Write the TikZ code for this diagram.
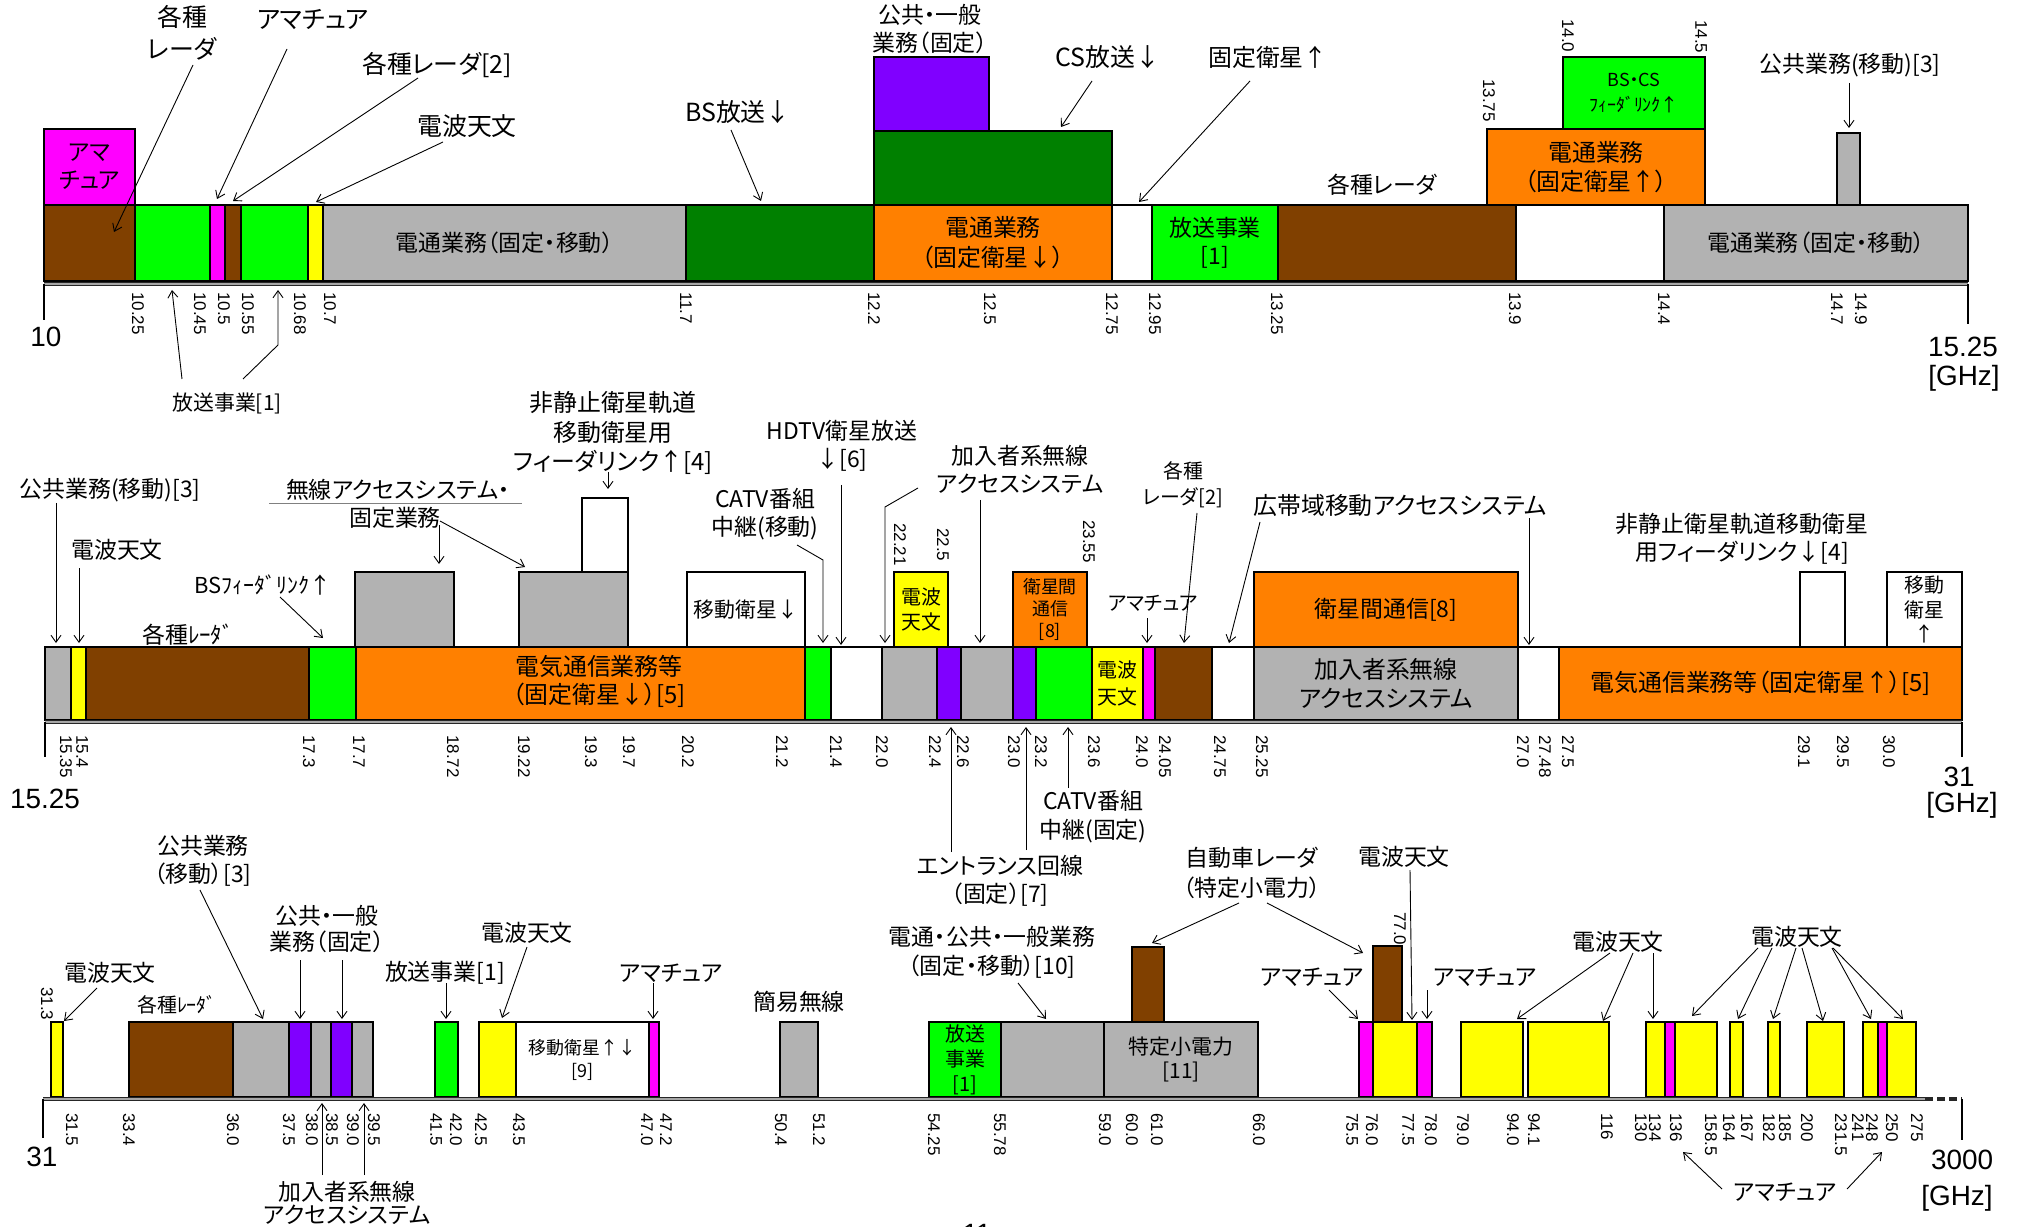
\documentclass[tikz,border=0pt]{standalone}
\usepackage{fontspec}
\setmainfont{Noto Sans CJK JP}[RawFeature=+palt]
\newfontfamily\arial{Liberation Sans}
\usetikzlibrary{arrows.meta}
\definecolor{cbrown}{RGB}{128,64,0}
\definecolor{cgreen}{RGB}{0,255,0}
\definecolor{cdkgreen}{RGB}{0,128,0}
\definecolor{cmag}{RGB}{255,0,255}
\definecolor{cyel}{RGB}{255,255,0}
\definecolor{cgray}{RGB}{178,178,178}
\definecolor{corange}{RGB}{255,128,0}
\definecolor{cpurple}{RGB}{128,0,255}
\newcommand\fss[2]{\fontsize{#1}{#2}\selectfont}
\tikzset{
  band/.style={draw=black, line width=0.9bp, inner sep=0pt, outer sep=0pt, rectangle},
  btxt/.style={inner sep=0pt, align=center},
  cl/.style={inner sep=0pt, align=center, font=\fss{11.5}{14}},
  arr/.style={-{Straight Barb[length=3.5bp,width=5bp]}, line width=0.45bp},
  tick/.style={font=\arial\fss{8.5}{9}, rotate=-90, anchor=west, inner sep=0pt},
  big/.style={font=\arial\fss{14}{16}, inner sep=0pt},
  endtick/.style={line width=0.8bp}
}
% name, x1, x2, ytop, ybot, colour
\newcommand\bd[6]{\node[band,fill=#6,minimum width={(#3-#2)*0.5bp},minimum height={(#5-#4)*0.5bp}] (#1) at ({(#2+#3)/2},{(#4+#5)/2}) {};}
% name, at, size, skip, text
\newcommand\bt[5]{\node[btxt,font=\fss{#3}{#4}] (#1) at (#2) {#5};}
\newcommand\axisline[3]{\draw[line width=2.4bp,black!85] (#2,#1) -- (#3,#1); \draw[line width=0.9bp,gray!70] (#2,#1) -- (#3,#1);}

\begin{document}
\begin{tikzpicture}[x=0.5bp,y=-0.5bp]
\useasboundingbox (0,0) rectangle (2033,1227);
\clip (0,0) rectangle (2033,1227);

% ================= ROW 1 =================
\bd{b1}{44}{135}{205}{281}{cbrown}
\bd{b2}{44}{135}{129}{205}{cmag}
\bd{b3}{135}{210}{205}{281}{cgreen}
\bd{b4}{210}{225}{205}{281}{cmag}
\bd{b5}{225}{241}{205}{281}{cbrown}
\bd{b6}{241}{308}{205}{281}{cgreen}
\bd{b7}{308}{323}{205}{281}{cyel}
\bd{b8}{323}{686}{205}{281}{cgray}
\bd{b9}{686}{874}{205}{281}{cdkgreen}
\bd{b10}{874}{1112}{205}{281}{corange}
\bd{b11}{874}{1112}{131}{205}{cdkgreen}
\bd{b12}{874}{989}{57}{131}{cpurple}
\bd{b13}{1112}{1152}{205}{281}{white}
\bd{b14}{1152}{1278}{205}{281}{cgreen}
\bd{b15}{1278}{1516}{205}{281}{cbrown}
\bd{b16}{1516}{1664}{205}{281}{white}
\bd{b17}{1664}{1968}{205}{281}{cgray}
\bd{b18}{1487}{1705}{129}{205}{corange}
\bd{b19}{1563}{1705}{57}{129}{cgreen}
\bd{b20}{1837}{1860}{133}{205}{cgray}

\bt{t2}{b2}{11.5}{14}{アマ\\チュア}
\bt{t8}{b8}{11.5}{14}{電通業務（固定・移動）}
\bt{t10}{b10}{12}{15}{電通業務\\（固定衛星↓）}
\bt{t14}{b14}{11.5}{14}{放送事業\\{[1]}}
\bt{t17}{b17}{11.5}{14}{電通業務（固定・移動）}
\bt{t18}{b18}{12}{14.5}{電通業務\\（固定衛星↑）}
\bt{t19}{b19}{9}{13}{BS・CS\\ﾌｨｰﾀﾞﾘﾝｸ↑}

\axisline{284}{44}{1968}
\draw[endtick] (44,284) -- (44,320);
\draw[endtick] (1968,284) -- (1968,324);
\node[big] (e1) at (46,337) {10};
\node[big] (e2) at (1963,347) {15.25};
\node[big] (e3) at (1964,378) {[GHz]};

\foreach \x/\t [count=\i] in {138/10.25,200/10.45,224/10.5,248/10.55,300/10.68,330/10.7,686/11.7,874/12.2,990/12.5,1112/12.75,1155/12.95,1277/13.25,1515/13.9,1664/14.4,1837/14.7,1861/14.9}
  \node[tick] (ta\i) at (\x,292) {\t};
\node[tick] (tu1) at (1489,79) {13.75};
\node[tick] (tu2) at (1568,19) {14.0};
\node[tick] (tu3) at (1701,20) {14.5};

\node[cl,font=\fss{12.5}{16}] (k1) at (182,33) {各種\\レーダ};
\draw[arr] (193,65) -- (114,232);
\node[cl,font=\fss{12.5}{15}] (k2) at (313,20) {アマチュア};
\draw[arr] (287,49) -- (217,199);
\node[cl,font=\fss{12.5}{15}] (k3) at (437,65) {各種レーダ[2]};
\draw[arr] (418,78) -- (233,201);
\node[cl,font=\fss{12.5}{15}] (k4) at (467,126) {電波天文};
\draw[arr] (443,142) -- (316,202);
\node[cl,font=\fss{10.5}{13}] (k5) at (227,403) {放送事業[1]};
\draw[arr] (182,379) -- (172,290);
\draw[arr] (243,379) -- (278,345) -- (278,290);
\node[cl,font=\fss{11.5}{14}] (k6) at (930,29) {公共・一般\\業務（固定）};
\node[cl,font=\fss{12.5}{15}] (k7) at (738,112) {BS放送↓};
\draw[arr] (731,130) -- (761,201);
\node[cl,font=\fss{12.5}{15}] (k8) at (1108,57) {CS放送↓};
\draw[arr] (1092,81) -- (1061,127);
\node[cl,font=\fss{12}{15}] (k9) at (1268,57) {固定衛星↑};
\draw[arr] (1250,81) -- (1139,202);
\node[cl] (k10) at (1382,185) {各種レーダ};
\node[cl] (k11) at (1850,65) {公共業務(移動)[3]};
\draw[arr] (1849,83) -- (1849,128);

% ================= ROW 2 =================
\bd{c1}{45}{71}{647}{720}{cgray}
\bd{c2}{71}{86}{647}{720}{cyel}
\bd{c3}{86}{309}{647}{720}{cbrown}
\bd{c4}{309}{356}{647}{720}{cgreen}
\bd{c5}{356}{805}{647}{720}{corange}
\bd{c6}{355}{454}{572}{647}{cgray}
\bd{c7}{519}{628}{572}{647}{cgray}
\bd{c8}{582}{628}{498}{572}{white}
\bd{c9}{687}{805}{572}{647}{white}
\bd{c10}{805}{831}{647}{720}{cgreen}
\bd{c11}{831}{882}{647}{720}{white}
\bd{c12}{882}{937}{647}{720}{cgray}
\bd{c13}{937}{961}{647}{720}{cpurple}
\bd{c14}{961}{1013}{647}{720}{cgray}
\bd{c15}{894}{948}{572}{647}{cyel}
\bd{c16}{1013}{1036}{647}{720}{cpurple}
\bd{c17}{1036}{1092}{647}{720}{cgreen}
\bd{c18}{1013}{1087}{572}{647}{corange}
\bd{c19}{1092}{1143}{647}{720}{cyel}
\bd{c20}{1143}{1155}{647}{720}{cmag}
\bd{c21}{1155}{1212}{647}{720}{cbrown}
\bd{c22}{1212}{1254}{647}{720}{white}
\bd{c23}{1254}{1518}{647}{720}{cgray}
\bd{c24}{1254}{1518}{572}{647}{corange}
\bd{c25}{1518}{1559}{647}{720}{white}
\bd{c26}{1559}{1962}{647}{720}{corange}
\bd{c27}{1800}{1845}{572}{647}{white}
\bd{c28}{1887}{1962}{572}{647}{white}

\node[btxt,font=\fss{12}{14}] (u5) at (599,681) {電気通信業務等\\（固定衛星↓）[5]};
\bt{u9}{c9}{10.5}{13}{移動衛星↓}
\bt{u15}{c15}{10}{12.5}{電波\\天文}
\bt{u18}{c18}{9}{11.25}{衛星間\\通信\\{[8]}}
\bt{u19}{c19}{10}{13.5}{電波\\天文}
\bt{u23}{c23}{12}{14.5}{加入者系無線\\アクセスシステム}
\bt{u24}{c24}{11.5}{14}{衛星間通信[8]}
\bt{u26}{c26}{12}{14}{電気通信業務等（固定衛星↑）[5]}
\bt{u28}{c28}{10}{12.5}{移動\\衛星\\↑}

\axisline{722}{45}{1962}
\draw[endtick] (45,722) -- (45,757);
\draw[endtick] (1962,722) -- (1962,757);
\node[big] (e4) at (45,799) {15.25};
\node[big] (e5) at (1959,777) {31};
\node[big] (e6) at (1962,805) {[GHz]};

\foreach \x/\t [count=\i] in {66/15.35,82/15.4,309/17.3,359/17.7,453/18.72,524/19.22,591/19.3,629/19.7,688/20.2,782/21.2,836/21.4,882/22.0,935/22.4,963/22.6,1014/23.0,1041/23.2,1094/23.6,1142/24.0,1165/24.05,1220/24.75,1262/25.25,1523/27.0,1545/27.48,1568/27.5,1804/29.1,1843/29.5,1889/30.0}
  \node[tick] (tb\i) at (\x,735) {\t};
\node[tick] (tv1) at (900,523) {22.21};
\node[tick] (tv2) at (943,528) {22.5};
\node[tick] (tv3) at (1089,520) {23.55};

\node[cl] (m1) at (110,490) {公共業務(移動)[3]};
\draw[arr] (56,503) -- (56,643);
\node[cl] (m2) at (117,550) {電波天文};
\draw[arr] (79,568) -- (79,643);
\node[cl,font=\fss{11}{13}] (m3) at (263,585) {BSﾌｨｰﾀﾞﾘﾝｸ↑};
\draw[arr] (280,597) -- (323,638);
\node[cl] (m4) at (188,635) {各種ﾚｰﾀﾞ};
\node[cl] (m5) at (398,490) {無線アクセスシステム・};
\draw[gray,line width=0.5bp] (269,504) -- (522,504);
\node[cl] (m6) at (395,518) {固定業務};
\draw[arr] (439,525) -- (439,564);
\draw[arr] (440,521) -- (525,567);
\node[cl,font=\fss{12}{14.75}] (m7) at (613,433) {非静止衛星軌道\\移動衛星用\\フィーダリンク↑[4]};
\draw[arr] (608,472) -- (608,489);
\node[cl] (m8) at (842,446) {HDTV衛星放送\\↓[6]};
\draw[arr] (841,485) -- (841,645);
\node[cl] (m9) at (765,514) {CATV番組\\中継(移動)};
\draw[arr] (797,545) -- (823,560) -- (823,643);
\node[cl] (m10) at (1020,469) {加入者系無線\\アクセスシステム};
\draw[arr] (918,488) -- (885,507) -- (885,643);
\draw[arr] (980,500) -- (980,643);
\node[cl,font=\fss{10}{13}] (m11) at (1183,485) {各種\\レーダ[2]};
\draw[arr] (1197,513) -- (1184,643);
\node[cl,font=\fss{10}{12}] (m12) at (1153,603) {アマチュア};
\draw[arr] (1147,618) -- (1147,643);
\node[cl,font=\fss{12}{14}] (m13) at (1400,505) {広帯域移動アクセスシステム};
\draw[arr] (1260,522) -- (1229,643);
\draw[arr] (1529,518) -- (1529,645);
\node[cl] (m14) at (1742,539) {非静止衛星軌道移動衛星\\用フィーダリンク↓[4]};
\node[cl,font=\fss{11.5}{14.5}] (m15) at (1093,817) {CATV番組\\中継(固定)};
\draw[arr] (1068,788) -- (1068,727);
\node[cl] (m16) at (1000,881) {エントランス回線\\（固定）[7]};
\draw[arr] (951,852) -- (951,727);
\draw[arr] (1026,850) -- (1026,727);

% ================= ROW 3 =================
\bd{d1}{51}{63}{1022}{1097}{cyel}
\bd{d2}{129}{233}{1022}{1097}{cbrown}
\bd{d3}{233}{289}{1022}{1097}{cgray}
\bd{d4}{289}{311}{1022}{1097}{cpurple}
\bd{d5}{311}{331}{1022}{1097}{cgray}
\bd{d6}{331}{352}{1022}{1097}{cpurple}
\bd{d7}{352}{373}{1022}{1097}{cgray}
\bd{d8}{435}{458}{1022}{1097}{cgreen}
\bd{d9}{479}{516}{1022}{1097}{cyel}
\bd{d10}{516}{649}{1022}{1097}{white}
\bd{d11}{649}{659}{1022}{1097}{cmag}
\bd{d12}{780}{818}{1022}{1097}{cgray}
\bd{d13}{929}{1001}{1022}{1097}{cgreen}
\bd{d14}{1001}{1104}{1022}{1097}{cgray}
\bd{d15}{1104}{1258}{1022}{1097}{cgray}
\bd{d16}{1132}{1164}{947}{1022}{cbrown}
\bd{d17}{1359}{1373}{1022}{1097}{cmag}
\bd{d18}{1373}{1417}{1022}{1097}{cyel}
\bd{d19}{1373}{1402}{946}{1022}{cbrown}
\bd{d20}{1417}{1432}{1022}{1097}{cmag}
\bd{d21}{1461}{1523}{1022}{1097}{cyel}
\bd{d22}{1528}{1609}{1022}{1097}{cyel}
\bd{d23}{1646}{1665}{1022}{1097}{cyel}
\bd{d24}{1665}{1675}{1022}{1097}{cmag}
\bd{d25}{1675}{1717}{1022}{1097}{cyel}
\bd{d26}{1730}{1743}{1022}{1097}{cyel}
\bd{d27}{1768}{1780}{1022}{1097}{cyel}
\bd{d28}{1807}{1844}{1022}{1097}{cyel}
\bd{d29}{1863}{1878}{1022}{1097}{cyel}
\bd{d30}{1878}{1887}{1022}{1097}{cmag}
\bd{d31}{1887}{1916}{1022}{1097}{cyel}

\bt{v10}{d10}{9}{11.5}{移動衛星↑↓\\{[9]}}
\bt{v13}{d13}{10}{12.5}{放送\\事業\\{[1]}}
\bt{v15}{d15}{10.5}{12.5}{特定小電力\\{[11]}}

\axisline{1099}{43}{1925}
\draw[line width=2.4bp,black!85,dash pattern=on 4bp off 2bp] (1925,1099) -- (1962,1099);
\draw[endtick] (43,1099) -- (43,1138);
\draw[endtick] (1962,1099) -- (1962,1140);
\node[big] (e7) at (42,1157) {31};
\node[big] (e8) at (1962,1160) {3000};
\node[big] (e9) at (1957,1198) {[GHz]};
\node[big] (pg) at (977,1234) {11};

\foreach \x/\t [count=\i] in {72/31.5,129/33.4,233/36.0,289/37.5,312/38.0,332/38.5,353/39.0,374/39.5,436/41.5,456/42.0,481/42.5,519/43.5,647/47.0,666/47.2,781/50.4,819/51.2,934/54.25,1000/55.78,1105/59.0,1132/60.0,1157/61.0,1259/66.0,1352/75.5,1372/76.0,1408/77.5,1431/78.0,1463/79.0,1513/94.0,1534/94.1,1607/116,1641/130,1655/134,1676/136,1711/158.5,1729/164,1747/167,1769/182,1785/185,1807/200,1841/231.5,1858/241,1872/248,1892/250,1917/275}
  \node[tick] (tc\i) at (\x,1113) {\t};
\node[tick] (tw1) at (47,987) {31.3};
\node[tick] (tw2) at (1400,912) {77.0};

\node[cl] (n1) at (110,973) {電波天文};
\draw[arr] (97,988) -- (64,1021);
\node[cl,font=\fss{10}{12}] (n2) at (177,1005) {各種ﾚｰﾀﾞ};
\node[cl] (n3) at (203,861) {公共業務\\（移動）[3]};
\draw[arr] (200,890) -- (263,1019);
\node[cl,font=\fss{11.5}{13.5}] (n4) at (327,929) {公共・一般\\業務（固定）};
\draw[arr] (300,960) -- (300,1019);
\draw[arr] (342,960) -- (342,1019);
\node[cl] (n5) at (445,973) {放送事業[1]};
\draw[arr] (446,983) -- (446,1019);
\node[cl] (n6) at (527,933) {電波天文};
\draw[arr] (527,947) -- (502,1018);
\node[cl] (n7) at (671,973) {アマチュア};
\draw[arr] (653,983) -- (653,1019);
\node[cl] (n8) at (799,1002) {簡易無線};
\node[cl,font=\fss{11.5}{11.5}] (n9) at (347,1203) {加入者系無線\\アクセスシステム};
\draw[arr] (322,1175) -- (322,1103);
\draw[arr] (364,1175) -- (364,1103);
\node[cl,font=\fss{11.5}{14.5}] (n10) at (992,952) {電通・公共・一般業務\\（固定・移動）[10]};
\draw[arr] (1018,983) -- (1046,1019);
\node[cl,font=\fss{11.5}{15}] (n11) at (1252,873) {自動車レーダ\\（特定小電力）};
\draw[arr] (1239,903) -- (1152,943);
\draw[arr] (1267,903) -- (1363,953);
\node[cl] (n12) at (1404,857) {電波天文};
\draw[arr] (1410,870) -- (1412,1020);
\node[cl] (n13) at (1312,977) {アマチュア};
\draw[arr] (1329,990) -- (1358,1019);
\node[cl] (n14) at (1485,977) {アマチュア};
\draw[arr] (1427,990) -- (1427,1019);
\node[cl] (n15) at (1618,942) {電波天文};
\draw[arr] (1610,953) -- (1517,1019);
\draw[arr] (1633,953) -- (1603,1021);
\draw[arr] (1653,953) -- (1653,1019);
\node[cl] (n16) at (1797,937) {電波天文};
\draw[arr] (1758,948) -- (1692,1016);
\draw[arr] (1772,948) -- (1738,1019);
\draw[arr] (1796,948) -- (1773,1019);
\draw[arr] (1802,948) -- (1823,1021);
\draw[arr] (1832,948) -- (1871,1019);
\draw[arr] (1833,948) -- (1903,1019);
\node[cl] (n17) at (1785,1192) {アマチュア};
\draw[arr] (1722,1189) -- (1683,1152);
\draw[arr] (1847,1189) -- (1882,1152);
\end{tikzpicture}
\end{document}
